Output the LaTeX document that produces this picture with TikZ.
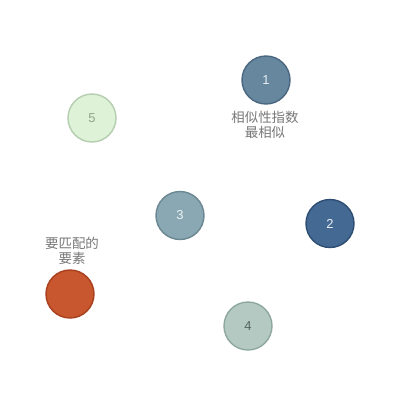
\documentclass[tikz,border=0pt]{standalone}
\usepackage{fontspec}
\setmainfont{Liberation Sans}
\newfontfamily\cjk{Noto Sans CJK SC}
\definecolor{c1fill}{HTML}{67879F}
\definecolor{c1line}{HTML}{4A6680}
\definecolor{c2fill}{HTML}{446A94}
\definecolor{c2line}{HTML}{2E4D73}
\definecolor{c3fill}{HTML}{8AA8B3}
\definecolor{c3line}{HTML}{6B8791}
\definecolor{c4fill}{HTML}{B3C9C1}
\definecolor{c4line}{HTML}{8FA89F}
\definecolor{c5fill}{HTML}{DEF2D8}
\definecolor{c5line}{HTML}{B5CDB0}
\definecolor{tfill}{HTML}{C8562F}
\definecolor{tline}{HTML}{A8401E}
\definecolor{tcol}{HTML}{777777}
\tikzset{every picture/.style={x=1bp,y=-1bp}}
\tikzset{feature/.style={circle,draw,line width=1.4bp,inner sep=0pt,minimum size=48bp,font=\fontsize{13}{13}\selectfont}}
\tikzset{note/.style={align=center,text=tcol,inner sep=0pt,font=\cjk\fontsize{13.5}{15}\selectfont}}

\begin{document}
\begin{tikzpicture}
\useasboundingbox (0,0) rectangle (400,400);

\node [feature,fill=c1fill,draw=c1line,text=white!85!c1fill] (f1) at (266,80) {1};
\node [feature,fill=c2fill,draw=c2line,text=white!90!c2fill] (f2) at (330,223.5) {2};
\node [feature,fill=c3fill,draw=c3line,text=white!85!c3fill] (f3) at (180,215.5) {3};
\node [feature,fill=c4fill,draw=c4line,text=c4line!60!black] (f4) at (248,326) {4};
\node [feature,fill=c5fill,draw=c5line,text=c5line!80!black] (f5) at (92,118) {5};

\node [feature,fill=tfill,draw=tline] (target) at (70,294) {};

\node [note] (l1) at (265,124.5) {相似性指数\\最相似};
\node [note] (lt) at (72,250.5) {要匹配的\\要素};
\end{tikzpicture}
\end{document}
